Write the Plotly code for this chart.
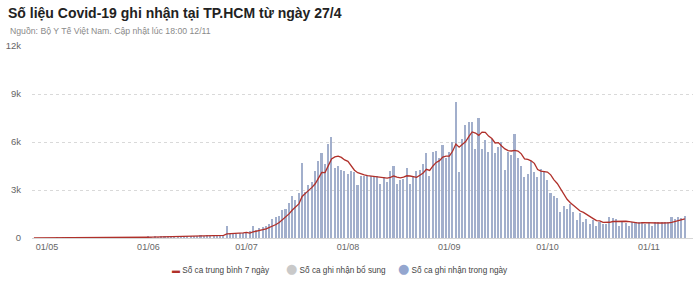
import pandas as pd
import plotly.graph_objects as go

start_date = "2021-04-27"

# Daily recorded cases (27/4 -> 12/11)
cases_apr = [0, 0, 0, 0]
cases_may = [0, 0, 0, 2, 0, 1, 3, 0, 2, 0, 0, 4, 2, 0, 1, 0, 3, 2, 0, 1, 2, 0, 5, 3,
             10, 25, 40, 30, 60, 45, 55]
cases_jun = [70, 50, 90, 60, 80, 110, 90, 70, 100, 120, 90, 130, 110, 150, 120, 140,
             160, 130, 170, 150, 190, 160, 200, 180, 720, 230, 260, 240, 300, 330]
cases_jul = [380, 420, 720, 500, 600, 680, 720, 900, 1170, 1340, 1380, 1750, 1800, 2200,
             2600, 2370, 2800, 4670, 2900, 3300, 3500, 4200, 4800, 5300, 4600, 5900, 6300,
             4400, 4500, 4260, 4200]
cases_aug = [4000, 4200, 4100, 3300, 3900, 3900, 3900, 3850, 3850, 3900, 3400, 3800, 3500,
             4200, 4470, 3350, 3600, 3700, 4400, 3400, 3900, 4200, 4260, 4600, 5300, 3900,
             5350, 5450, 5000, 5800, 5000]
cases_sep = [5350, 6000, 8500, 4100, 6200, 7060, 7260, 7260, 5550, 7470, 5550, 6100, 5400,
             6200, 5300, 5700, 6000, 4260, 5400, 5200, 6500, 5000, 4470, 3800, 4000, 4800,
             4100, 3800, 4300, 4200]
cases_oct = [3640, 2800, 2600, 2500, 1600, 2000, 1800, 2100, 1650, 1100, 1550, 1000, 1200,
             900, 1100, 750, 1000, 900, 900, 1340, 1230, 1170, 780, 970, 930, 780, 1030,
             1030, 970, 1030, 880]
cases_nov = [1030, 720, 970, 970, 970, 970, 970, 1300, 1170, 1340, 1230, 1380]

# Supplementary cases (none visible)
supplementary = [0] * 200

# 7-day average line
avg_apr_may = [0, 0, 0, 0, 0, 0, 0, 0, 1, 1, 1, 1, 1, 1, 2, 1, 1, 1, 1, 1, 1, 1, 1, 1,
               1, 1, 2, 2, 3, 7, 12, 17, 25, 32, 40]
avg_jun = [46, 50, 57, 61, 64, 74, 79, 79, 86, 90, 94, 101, 101, 110, 117, 123, 129, 134,
           140, 146, 151, 157, 166, 169, 253, 261, 277, 284, 304, 323]
avg_jul = [351, 309, 379, 413, 464, 519, 574, 649, 756, 844, 970, 1134, 1294, 1506, 1749,
           1920, 2129, 2599, 2763, 2977, 3163, 3391, 3739, 4096, 4086, 4514, 4943, 5071,
           5114, 5037, 4880]
avg_aug = [4794, 4551, 4237, 4080, 3994, 3943, 3900, 3879, 3829, 3800, 3814, 3800, 3743,
           3786, 3874, 3803, 3760, 3803, 3889, 3874, 3831, 3793, 3923, 4066, 4294, 4223,
           4501, 4723, 4837, 5057, 5114]
avg_sep = [5121, 5421, 5871, 5679, 5850, 6030, 6353, 6626, 6561, 6414, 6621, 6607, 6370,
           6219, 5939, 5960, 5750, 5566, 5466, 5437, 5480, 5437, 5261, 4947, 4910, 4824,
           4667, 4281, 4181, 4143]
avg_oct = [4120, 3949, 3634, 3406, 3091, 2763, 2420, 2200, 2036, 1821, 1686, 1600, 1486,
           1357, 1214, 1086, 1071, 979, 964, 984, 1031, 1041, 1046, 1041, 1046, 1029, 984,
           956, 927, 963, 950]
avg_nov = [964, 956, 947, 939, 939, 930, 943, 981, 1046, 1099, 1136, 1194]

y_tickvals = [0, 3000, 6000, 9000, 12000]
y_ticktext = ["0", "3k", "6k", "9k", "12k"]

daily = cases_apr + cases_may + cases_jun + cases_jul + cases_aug + cases_sep + cases_oct + cases_nov
avg7 = avg_apr_may + avg_jun + avg_jul + avg_aug + avg_sep + avg_oct + avg_nov
dates = pd.date_range(start_date, periods=len(daily), freq="D")

BAR_COLOR = "#a2afcc"
SUP_COLOR = "#c9c9c9"
DOT_COLOR = "#94a6cf"
LINE_COLOR = "#b0302a"
FONT = "Liberation Sans, Arial, sans-serif"
HIDDEN = dict(opacity=0, size=0.1, color="rgba(0,0,0,0)", line=dict(width=0))


def legend_label(glyph, color, style, text):
    return f'<span style="color:{color};{style}">{glyph}</span> {text}'


fig = go.Figure()

# legend entries: symbol drawn as part of the label so spacing matches the original
fig.add_trace(go.Scatter(x=[None], y=[None], mode="markers",
                         name=legend_label("▬", LINE_COLOR, "font-size:8px", "Số ca trung bình 7 ngày"),
                         legendwidth=69, marker=HIDDEN))
fig.add_trace(go.Scatter(x=[None], y=[None], mode="markers",
                         name=legend_label("●", SUP_COLOR, "font-family:DejaVu Sans;font-size:13px",
                                           "Số ca ghi nhận bổ sung"),
                         legendwidth=67, marker=HIDDEN))
fig.add_trace(go.Scatter(x=[None], y=[None], mode="markers",
                         name=legend_label("●", DOT_COLOR, "font-family:DejaVu Sans;font-size:13px",
                                           "Số ca ghi nhận trong ngày"),
                         marker=HIDDEN))

fig.add_trace(go.Bar(x=dates, y=daily, marker=dict(color=BAR_COLOR, line=dict(width=0)),
                     showlegend=False, name="Số ca ghi nhận trong ngày"))
fig.add_trace(go.Bar(x=dates, y=supplementary, marker=dict(color=SUP_COLOR, line=dict(width=0)),
                     showlegend=False, name="Số ca ghi nhận bổ sung"))
fig.add_trace(go.Scatter(x=dates, y=avg7, mode="lines", line=dict(color=LINE_COLOR, width=1.3),
                         showlegend=False, name="Số ca trung bình 7 ngày"))

fig.update_layout(
    width=700, height=292,
    margin=dict(l=32, r=7, t=46, b=54),
    paper_bgcolor="white", plot_bgcolor="white",
    barmode="stack", bargap=0.52,
    font=dict(family=FONT, size=9, color="#666"),
    title=dict(text="<b>Số liệu Covid-19 ghi nhận tại TP.HCM từ ngày 27/4</b>",
               x=8 / 700, xanchor="left", xref="container",
               y=1 - 13 / 292, yanchor="middle", yref="container",
               font=dict(family=FONT, size=14, color="#222")),
    annotations=[dict(text="Nguồn: Bộ Y Tế Việt Nam. Cập nhật lúc 18:00 12/11",
                      xref="paper", yref="paper", x=(8 - 32) / 661, y=1 + (46 - 31) / 192.6,
                      xanchor="left", yanchor="middle", showarrow=False,
                      font=dict(family=FONT, size=8.7, color="#8a8a8a"))],
    legend=dict(orientation="h", x=(132 - 32) / 661, xanchor="left", y=-(270 - 238.3) / 192.6,
                yanchor="middle", font=dict(family=FONT, size=8.2, color="#444"),
                traceorder="normal", itemwidth=30),
    showlegend=True,
)

fig.update_xaxes(type="date", range=["2021-04-26 10:00", "2021-11-14 12:00"],
                 tick0="2021-05-01", dtick="M1", tickformat="%d/%m",
                 showgrid=False, showline=True, linecolor="#d6d6d6", linewidth=1,
                 ticks="", tickfont=dict(size=9, color="#666"), fixedrange=True)
fig.update_yaxes(range=[0, 12000], tickvals=y_tickvals, ticktext=y_ticktext,
                 showgrid=True, gridcolor="#d9d9d9", griddash="dot", gridwidth=1,
                 zeroline=False, ticks="", ticklabelstandoff=10,
                 tickfont=dict(size=9.5, color="#666"), fixedrange=True)

fig.write_html("out.html")
